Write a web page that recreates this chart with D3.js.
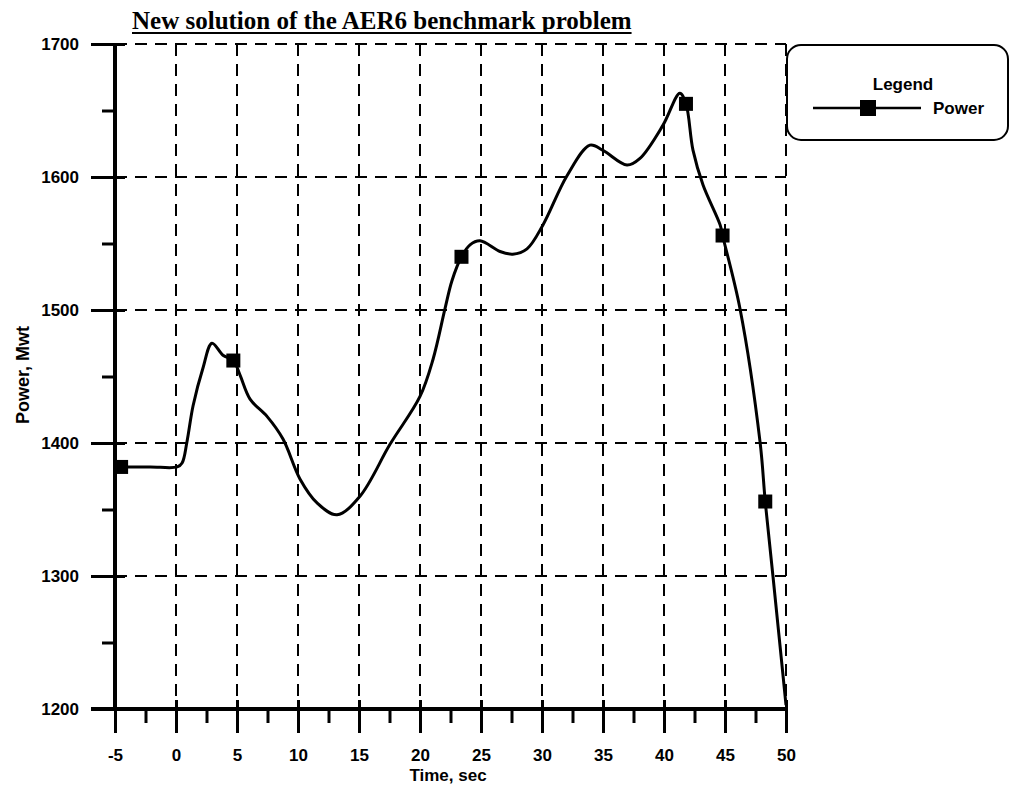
<!DOCTYPE html>
<html>
<head>
<meta charset="utf-8">
<script src="https://cdn.jsdelivr.net/npm/d3@7"></script>
<style>
  html, body { margin: 0; padding: 0; background: #fff; }
  svg { display: block; }
  .lbl { font-family: "Liberation Sans", Arial, sans-serif; font-weight: bold; fill: #000; }
</style>
</head>
<body>
<svg id="chart" width="1011" height="790"></svg>
<script>
// Reactor power transient, AER6 benchmark
const curveTime  = [-4.5, -2.1, 0.1, 0.5, 0.9, 1.4, 2.2, 2.95, 3.85, 4.7, 5.25, 6.07, 7.46, 8.77, 10.16, 11.56, 13.2, 15.08, 17.54, 20.0, 21.07, 22.05, 22.62, 23.4, 24.1, 24.92, 26.56, 27.6, 28.77, 30.08, 32.05, 33.93, 35.0, 36.97, 38.03, 39.92, 41.3, 41.8, 42.38, 43.2, 44.6, 44.8, 46.23, 47.87, 48.3, 48.93, 50.0];
const curvePower = [1382, 1382, 1382, 1385, 1401, 1428, 1456, 1475, 1466, 1462, 1451, 1433, 1420, 1403, 1373, 1355, 1346, 1360, 1399, 1435, 1463, 1501, 1522, 1540, 1549, 1552, 1544, 1542, 1546, 1564, 1601, 1624, 1620, 1609, 1614, 1639, 1663, 1655, 1620, 1594, 1564, 1556, 1501, 1401, 1356, 1300, 1203];

// Marked sample points
const markerTime  = [-4.5, 4.7, 23.4, 41.8, 44.8, 48.3];
const markerPower = [1382, 1462, 1540, 1655, 1556, 1356];

const xMajorTicks = [-5, 0, 5, 10, 15, 20, 25, 30, 35, 40, 45, 50];
const xMinorTicks = [-2.5, 2.5, 7.5, 12.5, 17.5, 22.5, 27.5, 32.5, 37.5, 42.5, 47.5];
const yMajorTicks = [1200, 1300, 1400, 1500, 1600, 1700];
const yMinorTicks = [1250, 1350, 1450, 1550, 1650];

const titleText = "New solution of the AER6 benchmark problem";
const xTitle = "Time, sec";
const yTitle = "Power, Mwt";
const legendTitle = "Legend";
const seriesName = "Power";

const svg = d3.select("#chart");
const x = d3.scaleLinear().domain([-5, 50]).range([115, 786]);
const y = d3.scaleLinear().domain([1200, 1700]).range([709, 44]);
const plainNum = d => String(d);  // ASCII hyphen, no thousands separator

// dashed grid
const grid = svg.append("g").attr("stroke", "#000").attr("stroke-width", 2)
  .attr("stroke-dasharray", "12,8").attr("fill", "none");
grid.selectAll("line.v").data(xMajorTicks.filter(d => d > -5)).join("line")
  .attr("class", "v")
  .attr("x1", d => x(d)).attr("x2", d => x(d))
  .attr("y1", y(1700)).attr("y2", y(1200));
grid.selectAll("line.h").data(yMajorTicks.filter(d => d > 1200)).join("line")
  .attr("class", "h")
  .attr("x1", x(-5)).attr("x2", x(50))
  .attr("y1", d => y(d)).attr("y2", d => y(d));

// x axis: major ticks cross the axis, minor ticks hang below
const xAxisMajor = d3.axisBottom(x).tickValues(xMajorTicks).tickFormat(plainNum)
  .tickSizeInner(24).tickSizeOuter(0).tickPadding(16);
const gx = svg.append("g").attr("transform", `translate(0,${y(1200)})`).call(xAxisMajor);
gx.select(".domain").remove();
gx.selectAll(".tick line").attr("stroke", "#000").attr("stroke-width", 3).attr("y1", -9);
gx.selectAll(".tick text").attr("class", "lbl").attr("font-size", 17);
const xAxisMinor = d3.axisBottom(x).tickValues(xMinorTicks).tickSizeInner(14).tickSizeOuter(0).tickFormat("");
const gxm = svg.append("g").attr("transform", `translate(0,${y(1200)})`).call(xAxisMinor);
gxm.select(".domain").remove();
gxm.selectAll(".tick line").attr("stroke", "#000").attr("stroke-width", 3);

// y axis: major ticks cross the axis, minor ticks on the left
const yAxisMajor = d3.axisLeft(y).tickValues(yMajorTicks).tickFormat(plainNum)
  .tickSizeInner(24).tickSizeOuter(0).tickPadding(12);
const gy = svg.append("g").attr("transform", `translate(${x(-5)},0)`).call(yAxisMajor);
gy.select(".domain").remove();
gy.selectAll(".tick line").attr("stroke", "#000").attr("stroke-width", 3).attr("x2", 10).attr("x1", -24);
gy.selectAll(".tick text").attr("class", "lbl").attr("font-size", 17);
const yAxisMinor = d3.axisLeft(y).tickValues(yMinorTicks).tickSizeInner(13).tickSizeOuter(0).tickFormat("");
const gym = svg.append("g").attr("transform", `translate(${x(-5)},0)`).call(yAxisMinor);
gym.select(".domain").remove();
gym.selectAll(".tick line").attr("stroke", "#000").attr("stroke-width", 3);

// axis lines
svg.append("line").attr("x1", x(-5)).attr("x2", x(-5)).attr("y1", y(1700)).attr("y2", y(1200) + 2)
  .attr("stroke", "#000").attr("stroke-width", 4);
svg.append("line").attr("x1", x(-5) - 24).attr("x2", x(50) + 2).attr("y1", y(1200)).attr("y2", y(1200))
  .attr("stroke", "#000").attr("stroke-width", 4);

// power curve
const pts = curveTime.map((t, i) => [t, curvePower[i]]);
const line = d3.line().x(d => x(d[0])).y(d => y(d[1])).curve(d3.curveCatmullRom.alpha(0.5));
svg.append("path").datum(pts).attr("d", line)
  .attr("fill", "none").attr("stroke", "#000").attr("stroke-width", 3).attr("stroke-linejoin", "round");

// square markers
const ms = 14;
svg.selectAll("rect.mk").data(markerTime.map((t, i) => [t, markerPower[i]])).join("rect")
  .attr("class", "mk")
  .attr("x", d => x(d[0]) - ms / 2).attr("y", d => y(d[1]) - ms / 2)
  .attr("width", ms).attr("height", ms).attr("fill", "#000");

// title, underlined
const title = svg.append("text").attr("x", 132).attr("y", 29)
  .attr("font-family", "'Liberation Serif', 'Times New Roman', serif")
  .attr("font-weight", "bold").attr("font-size", 25).text(titleText);
const tw = title.node().getComputedTextLength();
svg.append("line").attr("x1", 132).attr("x2", 132 + tw).attr("y1", 33).attr("y2", 33)
  .attr("stroke", "#000").attr("stroke-width", 2);

// axis titles
svg.append("text").attr("class", "lbl").attr("font-size", 17).attr("text-anchor", "middle")
  .attr("x", 448).attr("y", 781).text(xTitle);
svg.append("text").attr("class", "lbl").attr("font-size", 18).attr("text-anchor", "middle")
  .attr("transform", "translate(29,375) rotate(-90)").text(yTitle);

// legend
const lg = svg.append("g");
lg.append("rect").attr("x", 787).attr("y", 45).attr("width", 221).attr("height", 95)
  .attr("rx", 14).attr("ry", 14).attr("fill", "#fff").attr("stroke", "#000").attr("stroke-width", 2);
lg.append("text").attr("class", "lbl").attr("font-size", 17).attr("text-anchor", "middle")
  .attr("x", 903).attr("y", 90).text(legendTitle);
lg.append("line").attr("x1", 813).attr("x2", 921).attr("y1", 108).attr("y2", 108)
  .attr("stroke", "#000").attr("stroke-width", 2.5);
lg.append("rect").attr("x", 868 - 8).attr("y", 108 - 8).attr("width", 16).attr("height", 16).attr("fill", "#000");
lg.append("text").attr("class", "lbl").attr("font-size", 17)
  .attr("x", 933).attr("y", 114).text(seriesName);
</script>
</body>
</html>
